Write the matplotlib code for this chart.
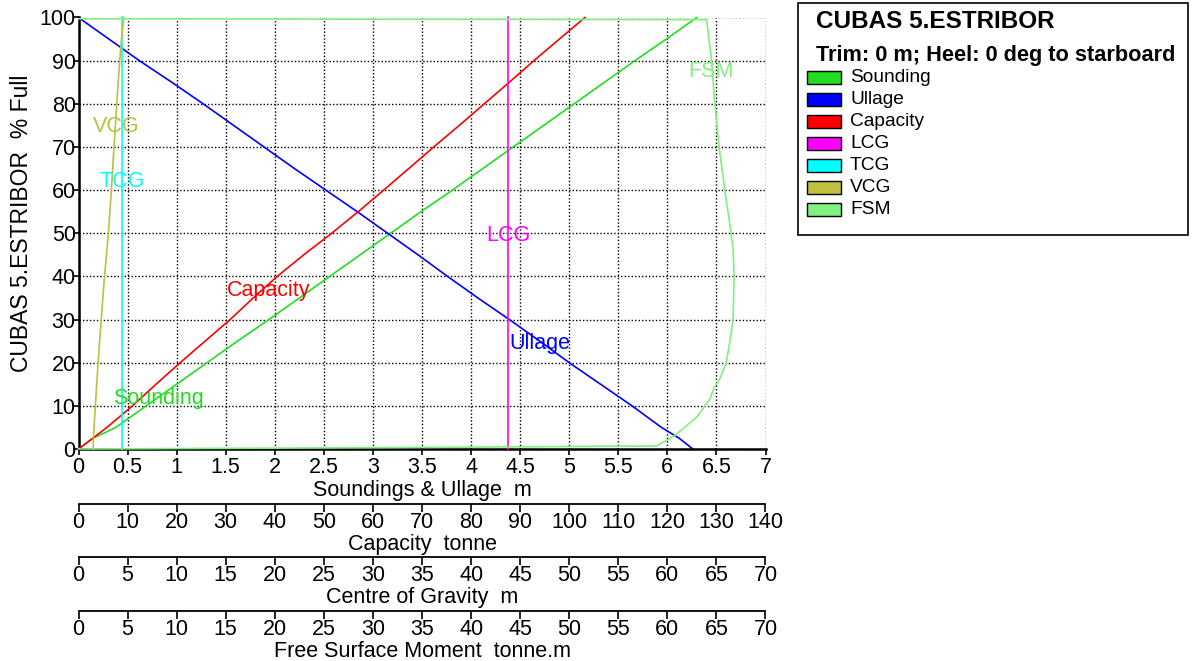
import numpy as np
import matplotlib
matplotlib.use("Agg")
import matplotlib.pyplot as plt
from matplotlib.patches import Rectangle

plt.rcParams['font.family'] = ['Liberation Sans', 'DejaVu Sans']

# ---------------- tank table data ----------------
pct_full = [0, 2.5, 5, 10, 15, 20, 25, 30, 35, 40, 45, 50, 55, 60, 65, 70, 75, 80, 85, 90, 95, 100]
sounding_m = [0.00, 0.15, 0.38, 0.69, 1.00, 1.31, 1.62, 1.94, 2.25, 2.56, 2.87, 3.18, 3.49,
              3.81, 4.12, 4.43, 4.74, 5.05, 5.36, 5.67, 5.99, 6.30]
ullage_m = [6.26, 6.12, 5.94, 5.64, 5.32, 5.00, 4.70, 4.39, 4.07, 3.76, 3.46, 3.15, 2.84,
            2.52, 2.20, 1.89, 1.58, 1.27, 0.95, 0.62, 0.31, 0.00]
capacity_t = [0.0, 2.9, 5.8, 11.0, 15.8, 20.7, 25.8, 30.9, 35.6, 40.5, 45.9, 51.6, 57.0,
              62.2, 67.3, 72.4, 77.6, 82.7, 87.8, 92.8, 98.0, 103.2]
lcg_m = [43.8] * len(pct_full)
tcg_m = [4.4] * len(pct_full)
vcg_m = [1.50, 1.52, 1.58, 1.72, 1.85, 2.00, 2.15, 2.32, 2.48, 2.65, 2.85, 3.05, 3.20,
         3.35, 3.48, 3.62, 3.76, 3.90, 4.05, 4.20, 4.38, 4.62]

fsm_pct = [0.0, 0.3, 0.7, 2.1, 3.2, 7.4, 11.4, 14.4, 16.0, 20.0, 25.3, 29.9, 39.9, 46.2,
           51.5, 57.8, 69.4, 81.0, 90.3, 99.5, 99.7]
fsm_tm = [0.0, 30.0, 58.9, 60.0, 60.8, 63.0, 64.3, 64.8, 65.3, 66.0, 66.4, 66.7, 66.8, 66.7,
          66.4, 66.0, 65.3, 64.8, 64.5, 64.0, 0.0]

series_names = ["Sounding", "Ullage", "Capacity", "LCG", "TCG", "VCG", "FSM"]
series_colors = ["#22dd22", "#0000ff", "#ff0000", "#ff00ff", "#00ffff", "#bfbf40", "#80f080"]
col = dict(zip(series_names, series_colors))

tank_name = "CUBAS 5.ESTRIBOR"
condition = "Trim: 0 m; Heel: 0 deg to starboard"

# ---------------- figure layout (pixel based) ----------------
W, H = 1194, 661
fig = plt.figure(figsize=(W / 100, H / 100), dpi=100)


def fx(px):
    return px / W


def fy(py):
    return 1 - py / H


AX_L, AX_R, AX_T, AX_B = 78.5, 765.5, 17.5, 449.0
ax_h_px = AX_B - AX_T
ax = fig.add_axes([fx(AX_L), fy(AX_B), (AX_R - AX_L) / W, ax_h_px / H])

FS = 15.5
LW = 1.2

ax.set_xlim(0, 7)
ax.set_ylim(0, 100)
ax.set_xticks(np.arange(0, 7.01, 0.5))
ax.set_xticklabels([f"{v:g}" for v in np.arange(0, 7.01, 0.5)])
ax.set_yticks(np.arange(0, 101, 10))
ax.grid(True, color="black", linestyle=(0, (1, 1.5)), linewidth=1.0)
ax.set_axisbelow(True)
for s in ("top", "right"):
    ax.spines[s].set_visible(False)
for s in ("left", "bottom"):
    ax.spines[s].set_linewidth(1.8)
    ax.spines[s].set_color("black")
ax.tick_params(axis="x", direction="out", length=4, width=1.2, pad=1.5, labelsize=FS)
ax.tick_params(axis="y", direction="out", length=4, width=1.2, pad=-2, labelsize=FS)
ax.set_xlabel("Soundings & Ullage  m", fontsize=FS, labelpad=1.5)


def scale_axis(xmax, step, line_py, label):
    a = ax.twiny()
    a.set_xlim(0, xmax)
    a.set_ylim(0, 100)
    a.xaxis.set_ticks_position("bottom")
    a.xaxis.set_label_position("bottom")
    a.spines["bottom"].set_position(("axes", -(line_py - AX_B) / ax_h_px))
    for s in ("top", "left", "right"):
        a.spines[s].set_visible(False)
    a.spines["bottom"].set_visible(True)
    a.spines["bottom"].set_linewidth(1.3)
    a.set_xticks(np.arange(0, xmax + step / 2, step))
    a.tick_params(axis="x", direction="out", length=6, width=1.2, pad=0, labelsize=FS)
    a.set_xlabel(label, fontsize=FS, labelpad=0.5)
    a.patch.set_visible(False)
    return a


ax_cap = scale_axis(140, 10, 504, "Capacity  tonne")
ax_cg = scale_axis(70, 5, 557, "Centre of Gravity  m")
ax_fsm = scale_axis(70, 5, 611, "Free Surface Moment  tonne.m")

# ---------------- curves ----------------
ax.plot(sounding_m, pct_full, color=col["Sounding"], lw=LW, clip_on=False)
ax.plot(ullage_m, pct_full, color=col["Ullage"], lw=LW, clip_on=False)
ax_cap.plot(capacity_t, pct_full, color=col["Capacity"], lw=LW, clip_on=False)
ax_cg.plot(lcg_m, pct_full, color=col["LCG"], lw=LW, clip_on=False)
ax_cg.plot(tcg_m, pct_full, color=col["TCG"], lw=LW, clip_on=False)
ax_cg.plot(vcg_m, pct_full, color=col["VCG"], lw=LW, clip_on=False)
ax_fsm.plot(fsm_tm, fsm_pct, color=col["FSM"], lw=LW, clip_on=False)

# curve labels
labels_at = {
    "VCG": (0.38, 74.8),
    "TCG": (0.45, 62.0),
    "Capacity": (1.94, 36.8),
    "Sounding": (0.81, 11.7),
    "LCG": (4.38, 49.5),
    "Ullage": (4.70, 24.5),
    "FSM": (6.44, 87.6),
}
for name, (lx, ly) in labels_at.items():
    ax_fsm.text(lx * 10, ly, name, color=col[name], fontsize=FS, ha="center", va="center")

# ---------------- y label ----------------
fig.text(fx(22), fy(223), f"{tank_name}  % Full", rotation=90, ha="center", va="center",
         fontsize=16.5)

# ---------------- legend panel ----------------
fig.patches.append(Rectangle((fx(798), fy(235)), (1188 - 798) / W, (235 - 3) / H,
                             transform=fig.transFigure, facecolor="white",
                             edgecolor="black", linewidth=1.2))
fig.text(fx(816), fy(22), tank_name, fontsize=17.5, fontweight="bold", ha="left", va="center")
fig.text(fx(816), fy(56), condition, fontsize=15.7, fontweight="bold", ha="left", va="center")
row0, row_step = 78, 22
for i, name in enumerate(series_names):
    cy = row0 + i * row_step
    fig.patches.append(Rectangle((fx(807), fy(cy + 6)), 34 / W, 13 / H,
                                 transform=fig.transFigure, facecolor=col[name],
                                 edgecolor="black", linewidth=1.0))
    fig.text(fx(850), fy(cy), name, fontsize=13.8, ha="left", va="center")

fig.savefig("out.png", dpi=100)
